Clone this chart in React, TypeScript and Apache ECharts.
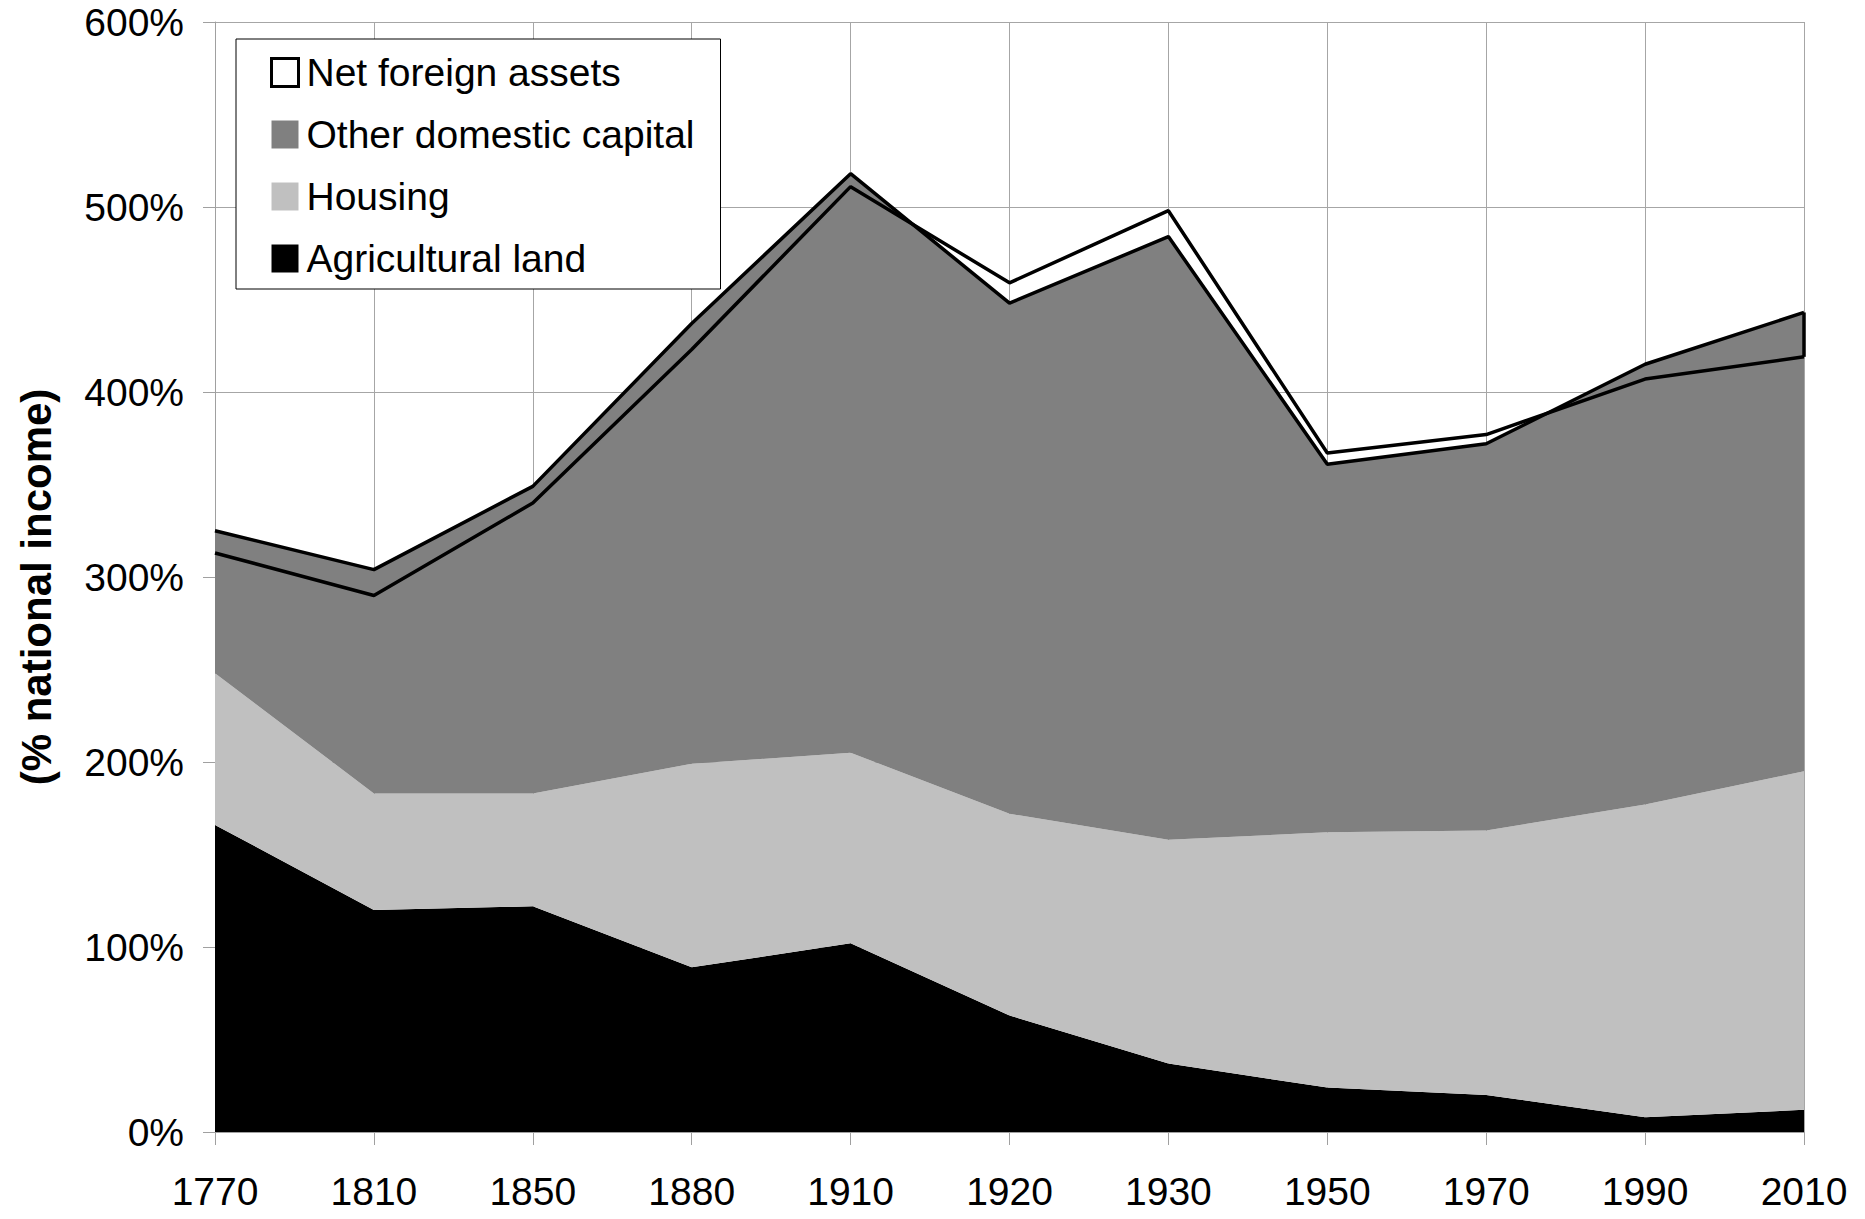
import React, { useEffect, useRef } from "react";
import * as echarts from "echarts";

const years = ["1770", "1810", "1850", "1880", "1910", "1920", "1930", "1950", "1970", "1990", "2010"];
const agriculturalLand = [166, 120, 122, 89, 102, 63, 37, 24, 20, 8, 12];
const housing = [82, 63, 61, 110, 103, 109, 121, 138, 143, 169, 183];
const otherDomestic = [77, 121, 166, 238, 313, 276, 326, 199, 209, 238, 248];
const netForeignAssets = [-12, -14, -9, -14, -7, 11, 14, 6, 5, -8, -24];
const legendNames = ["Net foreign assets", "Other domestic capital", "Housing", "Agricultural land"];

const FONT = "'Liberation Sans', Arial, sans-serif";

export default function App() {
  const ref = useRef<HTMLDivElement>(null);
  useEffect(() => {
    if (!ref.current) return;
    const chart = echarts.init(ref.current, null, { renderer: "svg" });
    const last = years.length - 1;
    const domesticLast = agriculturalLand[last] + housing[last] + otherDomestic[last];
    const nationalLast = domesticLast + netForeignAssets[last];
    chart.setOption({
      animation: false,
      backgroundColor: "#fff",
      textStyle: { fontFamily: FONT },
      grid: { left: 215, right: 61, top: 22, bottom: 87 },
      legend: {
        orient: "vertical",
        left: 236,
        top: 39,
        padding: [14, 26, 11, 34],
        itemWidth: 27,
        itemHeight: 28,
        itemGap: 23,
        icon: "rect",
        backgroundColor: "#fff",
        borderColor: "#000",
        borderWidth: 1,
        textStyle: { fontFamily: FONT, fontSize: 39, color: "#000", padding: [0, 0, 0, 3] },
        data: [
          { name: legendNames[0], icon: "rect", itemStyle: { color: "#fff", borderColor: "#000", borderWidth: 3 } },
          { name: legendNames[1], icon: "rect", itemStyle: { color: "#808080", borderWidth: 0 } },
          { name: legendNames[2], icon: "rect", itemStyle: { color: "#c0c0c0", borderWidth: 0 } },
          { name: legendNames[3], icon: "rect", itemStyle: { color: "#000", borderWidth: 0 } },
        ],
        selectedMode: false,
      },
      xAxis: {
        type: "category",
        boundaryGap: false,
        data: years,
        axisLine: { show: true, lineStyle: { color: "#a0a0a0", width: 1 } },
        axisTick: { show: true, length: 13, lineStyle: { color: "#a0a0a0" } },
        splitLine: { show: true, lineStyle: { color: "#a6a6a6", width: 1 } },
        axisLabel: { fontFamily: FONT, fontSize: 39, color: "#000", margin: 40 },
      },
      yAxis: {
        type: "value",
        min: 0,
        max: 600,
        interval: 100,
        axisLine: { show: true, lineStyle: { color: "#a0a0a0", width: 1 } },
        axisTick: { show: true, length: 12, lineStyle: { color: "#a0a0a0" } },
        splitLine: { show: true, lineStyle: { color: "#a6a6a6", width: 1 } },
        axisLabel: { fontFamily: FONT, fontSize: 39, color: "#000", margin: 31, formatter: "{value}%" },
      },
      graphic: [
        {
          type: "text",
          x: 36,
          y: 587,
          rotation: Math.PI / 2,
          style: {
            text: "(% national income)",
            font: `bold 42px ${FONT}`,
            fill: "#000",
            align: "center",
            verticalAlign: "middle",
          },
        },
      ],
      series: [
        {
          name: legendNames[3],
          type: "line",
          stack: "a",
          stackStrategy: "all",
          data: agriculturalLand,
          showSymbol: false,
          lineStyle: { width: 0, color: "#000" },
          itemStyle: { color: "#000" },
          areaStyle: { color: "#000", opacity: 1 },
          z: 2,
        },
        {
          name: legendNames[2],
          type: "line",
          stack: "a",
          stackStrategy: "all",
          data: housing,
          showSymbol: false,
          lineStyle: { width: 0, color: "#c0c0c0" },
          itemStyle: { color: "#c0c0c0" },
          areaStyle: { color: "#c0c0c0", opacity: 1 },
          z: 2,
        },
        {
          name: legendNames[1],
          type: "line",
          stack: "a",
          stackStrategy: "all",
          data: otherDomestic,
          showSymbol: false,
          lineStyle: { width: 3.5, color: "#000" },
          itemStyle: { color: "#808080" },
          areaStyle: { color: "#808080", opacity: 1 },
          z: 3,
        },
        {
          name: legendNames[0],
          type: "line",
          stack: "a",
          stackStrategy: "all",
          data: netForeignAssets,
          showSymbol: false,
          lineStyle: { width: 3.5, color: "#000" },
          itemStyle: { color: "#fff", borderColor: "#000" },
          markLine: {
            silent: true,
            symbol: ["none", "none"],
            label: { show: false },
            lineStyle: { type: "solid", color: "#000", width: 3.5 },
            data: [
              [
                { coord: [years[last], domesticLast] },
                { coord: [years[last], nationalLast] },
              ],
            ],
          },
          z: 4,
        },
      ],
    });
    return () => chart.dispose();
  }, []);
  return (
    <div
      ref={ref}
      style={{ position: "fixed", left: 0, top: 0, width: 1865, height: 1219, background: "#fff" }}
    />
  );
}
